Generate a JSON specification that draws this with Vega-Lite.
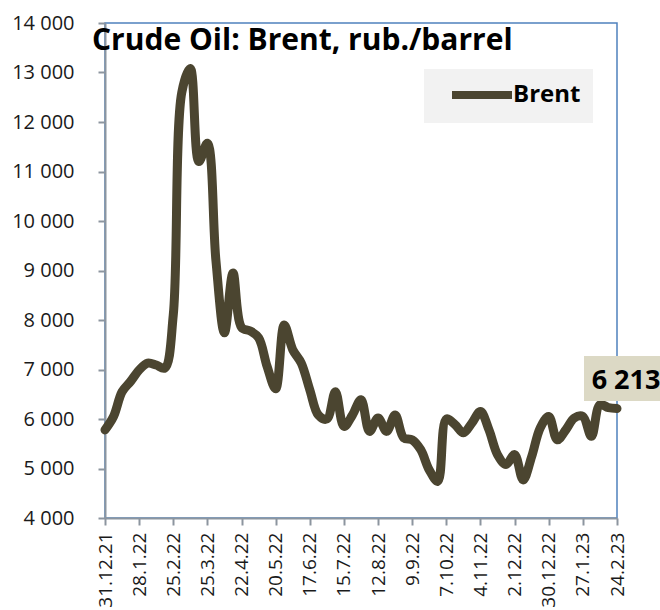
{
  "$schema": "https://vega.github.io/schema/vega-lite/v6.json",
  "width": 512,
  "height": 495,
  "autosize": "none",
  "padding": {"left": 105, "top": 23, "right": 43, "bottom": 92},
  "background": "white",
  "config": {
    "font": "Open Sans",
    "locale": {"number": {"decimal": ",", "thousands": " ", "grouping": [3], "currency": ["", ""]}},
    "view": {"stroke": "#4f81bd", "strokeWidth": 1.5}
  },
  "title": {"text": "Crude Oil: Brent, rub./barrel", "anchor": "start", "frame": "group", "offset": -43, "dx": -13, "fontSize": 30, "fontWeight": "bold", "color": "black", "font": "Open Sans"},
  "data": {"values": [
    {"date": "2021-12-31", "value": 5780},
    {"date": "2022-01-07", "value": 6050},
    {"date": "2022-01-14", "value": 6550},
    {"date": "2022-01-21", "value": 6760},
    {"date": "2022-01-28", "value": 6990},
    {"date": "2022-02-04", "value": 7130},
    {"date": "2022-02-11", "value": 7090},
    {"date": "2022-02-18", "value": 7030},
    {"date": "2022-02-25", "value": 8100},
    {"date": "2022-03-04", "value": 12600},
    {"date": "2022-03-11", "value": 13080},
    {"date": "2022-03-18", "value": 11200},
    {"date": "2022-03-25", "value": 11570},
    {"date": "2022-04-01", "value": 9200},
    {"date": "2022-04-08", "value": 7740},
    {"date": "2022-04-15", "value": 8950},
    {"date": "2022-04-22", "value": 7850},
    {"date": "2022-04-29", "value": 7780},
    {"date": "2022-05-06", "value": 7640},
    {"date": "2022-05-13", "value": 7060},
    {"date": "2022-05-20", "value": 6610},
    {"date": "2022-05-27", "value": 7900},
    {"date": "2022-06-03", "value": 7400},
    {"date": "2022-06-10", "value": 7130},
    {"date": "2022-06-17", "value": 6590},
    {"date": "2022-06-24", "value": 6080},
    {"date": "2022-07-01", "value": 6000},
    {"date": "2022-07-08", "value": 6550},
    {"date": "2022-07-15", "value": 5850},
    {"date": "2022-07-22", "value": 6080},
    {"date": "2022-07-29", "value": 6390},
    {"date": "2022-08-05", "value": 5750},
    {"date": "2022-08-12", "value": 6020},
    {"date": "2022-08-19", "value": 5750},
    {"date": "2022-08-26", "value": 6080},
    {"date": "2022-09-02", "value": 5620},
    {"date": "2022-09-09", "value": 5580},
    {"date": "2022-09-16", "value": 5380},
    {"date": "2022-09-23", "value": 4970},
    {"date": "2022-09-30", "value": 4740},
    {"date": "2022-10-07", "value": 6000},
    {"date": "2022-10-14", "value": 5890},
    {"date": "2022-10-21", "value": 5720},
    {"date": "2022-10-28", "value": 5920},
    {"date": "2022-11-04", "value": 6150},
    {"date": "2022-11-11", "value": 5780},
    {"date": "2022-11-18", "value": 5280},
    {"date": "2022-11-25", "value": 5080},
    {"date": "2022-12-02", "value": 5280},
    {"date": "2022-12-09", "value": 4770},
    {"date": "2022-12-16", "value": 5240},
    {"date": "2022-12-23", "value": 5820},
    {"date": "2022-12-30", "value": 6050},
    {"date": "2023-01-06", "value": 5580},
    {"date": "2023-01-13", "value": 5780},
    {"date": "2023-01-20", "value": 6020},
    {"date": "2023-01-27", "value": 6050},
    {"date": "2023-02-03", "value": 5650},
    {"date": "2023-02-10", "value": 6290},
    {"date": "2023-02-17", "value": 6230},
    {"date": "2023-02-24", "value": 6213}
  ]},
  "encoding": {
    "x": {
      "field": "date", "type": "temporal",
      "scale": {"type": "utc", "domain": [{"year": 2021, "month": 12, "date": 31, "utc": true}, {"year": 2023, "month": 2, "date": 24, "utc": true}], "nice": false},
      "axis": {
        "title": null, "grid": false,
        "labelExpr": "utcFormat(datum.value, '%-d.%-m.%y')",
        "values": [
          {"year": 2021, "month": 12, "date": 31, "utc": true},
          {"year": 2022, "month": 1, "date": 28, "utc": true},
          {"year": 2022, "month": 2, "date": 25, "utc": true},
          {"year": 2022, "month": 3, "date": 25, "utc": true},
          {"year": 2022, "month": 4, "date": 22, "utc": true},
          {"year": 2022, "month": 5, "date": 20, "utc": true},
          {"year": 2022, "month": 6, "date": 17, "utc": true},
          {"year": 2022, "month": 7, "date": 15, "utc": true},
          {"year": 2022, "month": 8, "date": 12, "utc": true},
          {"year": 2022, "month": 9, "date": 9, "utc": true},
          {"year": 2022, "month": 10, "date": 7, "utc": true},
          {"year": 2022, "month": 11, "date": 4, "utc": true},
          {"year": 2022, "month": 12, "date": 2, "utc": true},
          {"year": 2022, "month": 12, "date": 30, "utc": true},
          {"year": 2023, "month": 1, "date": 27, "utc": true},
          {"year": 2023, "month": 2, "date": 24, "utc": true}
        ],
        "labelAngle": -90, "labelAlign": "right", "labelBaseline": "middle",
        "labelFontSize": 19, "labelColor": "#1a1a1a", "labelPadding": 7,
        "labelOverlap": false, "labelBound": false, "labelFlush": false,
        "tickSize": 7, "tickWidth": 2, "tickColor": "#8c959f",
        "domainColor": "#8c959f", "domainWidth": 2
      }
    },
    "y": {
      "field": "value", "type": "quantitative",
      "scale": {"domain": [4000, 14000], "nice": false, "zero": false},
      "axis": {
        "title": null, "grid": false, "format": ",d",
        "values": [4000, 5000, 6000, 7000, 8000, 9000, 10000, 11000, 12000, 13000, 14000],
        "labelFontSize": 20, "labelColor": "#1a1a1a", "labelPadding": 24,
        "labelOverlap": false, "labelFlush": false,
        "tickSize": 7, "tickWidth": 2, "tickColor": "#8c959f",
        "domainColor": "#8c959f", "domainWidth": 2
      }
    }
  },
  "layer": [
    {
      "mark": {"type": "line", "strokeWidth": 9, "interpolate": "catmull-rom", "strokeCap": "round", "strokeJoin": "round"},
      "encoding": {
        "color": {
          "datum": "Brent",
          "scale": {"range": ["#4b4530"]},
          "legend": {
            "orient": "none", "legendX": 319, "legendY": 46, "title": null,
            "fillColor": "#f2f2f2", "padding": 12,
            "symbolType": "M-3,0H3", "symbolSize": 400, "symbolStrokeWidth": 8,
            "symbolOffset": 32, "labelOffset": 17,
            "labelFontSize": 24, "labelFontWeight": "bold", "labelColor": "black",
            "labelExpr": "datum.label + '\u00a0\u00a0\u00a0'"
          }
        }
      }
    },
    {
      "transform": [
        {"window": [{"op": "row_number", "as": "rn"}], "sort": [{"field": "date", "order": "descending"}]},
        {"filter": "datum.rn == 1"}
      ],
      "mark": {"type": "point", "shape": "M-1,-0.5625H1V0.5625H-1Z", "size": 6400, "filled": true, "color": "#dcd9c5", "opacity": 1, "xOffset": 7, "yOffset": -30}
    },
    {
      "transform": [
        {"window": [{"op": "row_number", "as": "rn"}], "sort": [{"field": "date", "order": "descending"}]},
        {"filter": "datum.rn == 1"}
      ],
      "mark": {"type": "text", "fontSize": 27, "fontWeight": "bold", "color": "black", "align": "center", "baseline": "alphabetic", "dx": 9, "dy": -19},
      "encoding": {"text": {"field": "value", "type": "quantitative", "format": ",d"}}
    }
  ]
}
